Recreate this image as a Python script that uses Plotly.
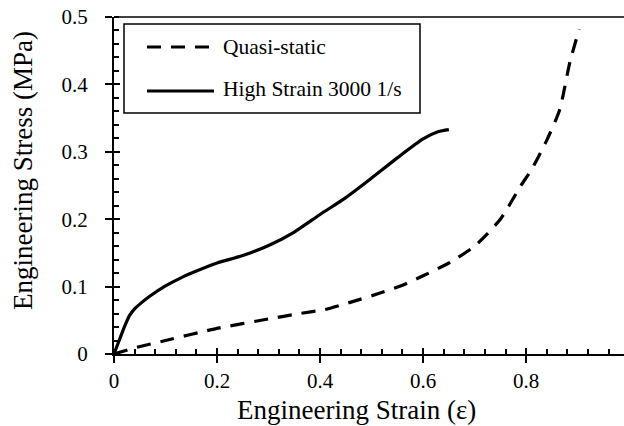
import plotly.graph_objects as go

# Data
hs_strain = [0, 0.01, 0.02, 0.03, 0.04, 0.05, 0.07, 0.1, 0.13, 0.16, 0.2, 0.25, 0.3, 0.35, 0.4, 0.45, 0.5, 0.55, 0.6, 0.63, 0.65]
hs_stress = [0, 0.02, 0.04, 0.057, 0.067, 0.074, 0.086, 0.101, 0.113, 0.123, 0.135, 0.146, 0.161, 0.181, 0.207, 0.232, 0.261, 0.291, 0.319, 0.33, 0.333]

qs_strain = [0, 0.04, 0.1, 0.2, 0.3, 0.36, 0.41, 0.46, 0.515, 0.56, 0.6, 0.65, 0.7, 0.75, 0.79, 0.81, 0.84, 0.865, 0.885, 0.903]
qs_stress = [0, 0.009, 0.02, 0.038, 0.052, 0.06, 0.066, 0.077, 0.09, 0.102, 0.116, 0.135, 0.16, 0.2, 0.25, 0.273, 0.317, 0.362, 0.433, 0.482]

series_names = ["Quasi-static", "High Strain 3000 1/s"]
x_ticks = [0, 0.2, 0.4, 0.6, 0.8]
x_tick_labels = ["0", "0.2", "0.4", "0.6", "0.8"]
y_ticks = [0, 0.1, 0.2, 0.3, 0.4, 0.5]
y_tick_labels = ["0", "0.1", "0.2", "0.3", "0.4", "0.5"]
x_title = "Engineering Strain (ε)"
y_title = "Engineering Stress (MPa)"

FONT = "Liberation Serif, Times New Roman, serif"
W, H = 624, 426
L, T, R, B = 114, 17, 0, 72
PW, PH = W - L - R, H - T - B
XR = [0, 0.99]
YR = [0, 0.5]

def px(x):
    return (x - L) / PW

def py(y):
    return (H - B - y) / PH

fig = go.Figure()
fig.add_trace(go.Scatter(x=qs_strain, y=qs_stress, mode="lines", name=series_names[0],
                         line=dict(color="black", width=3.2, dash="14px,10px", shape="spline", smoothing=0.6),
                         showlegend=False))
fig.add_trace(go.Scatter(x=hs_strain, y=hs_stress, mode="lines", name=series_names[1],
                         line=dict(color="black", width=3.2, shape="spline", smoothing=0.6),
                         showlegend=False))
# invisible trace for the overlay axes (crossing major ticks)
fig.add_trace(go.Scatter(x=[XR[0]], y=[YR[0]], xaxis="x2", yaxis="y2", mode="markers",
                         marker=dict(opacity=0), showlegend=False, hoverinfo="skip"))

tickfont = dict(family=FONT, size=21, color="black")
fig.update_layout(
    width=W, height=H,
    margin=dict(l=L, r=R, t=T, b=B),
    paper_bgcolor="white", plot_bgcolor="white",
    showlegend=False,
    xaxis=dict(range=XR, tickvals=x_ticks, ticktext=x_tick_labels, ticks="outside", ticklen=7,
               tickwidth=2, tickcolor="black", showline=True, linecolor="black", linewidth=2,
               showgrid=False, zeroline=False, tickfont=tickfont, ticklabelstandoff=0,
               minor=dict(ticks="inside", dtick=0.04, tick0=0, ticklen=5, tickwidth=1.5, tickcolor="black", showgrid=False)),
    yaxis=dict(range=YR, tickvals=y_ticks, ticktext=y_tick_labels, ticks="outside", ticklen=7,
               tickwidth=2, tickcolor="black", showline=True, linecolor="black", linewidth=2,
               showgrid=False, zeroline=False, tickfont=tickfont, ticklabelstandoff=13,
               minor=dict(ticks="inside", dtick=0.02, tick0=0, ticklen=5, tickwidth=1.5, tickcolor="black", showgrid=False)),
    xaxis2=dict(range=XR, overlaying="x", side="bottom", tickvals=x_ticks, ticks="inside", ticklen=6,
                tickwidth=2, tickcolor="black", showticklabels=False, showgrid=False, zeroline=False, showline=False),
    yaxis2=dict(range=YR, overlaying="y", side="left", tickvals=y_ticks, ticks="inside", ticklen=6,
                tickwidth=2, tickcolor="black", showticklabels=False, showgrid=False, zeroline=False, showline=False),
)

# axis titles
titlefont = dict(family=FONT, size=27, color="black")
fig.add_annotation(xref="paper", yref="paper", x=px(356), y=py(410), text=x_title, showarrow=False,
                   xanchor="center", yanchor="middle", font=titlefont)
fig.add_annotation(xref="paper", yref="paper", x=px(23), y=py(171), text=y_title, showarrow=False,
                   textangle=-90, xanchor="center", yanchor="middle", font=titlefont)

# top border line
fig.add_shape(type="line", xref="paper", yref="paper", x0=0, x1=1, y0=1, y1=1,
              line=dict(color="black", width=1.5))

# custom legend box
fig.add_shape(type="rect", xref="paper", yref="paper", x0=px(124), x1=px(420), y0=py(113), y1=py(24),
              line=dict(color="black", width=1.5), fillcolor="white")
legend_line_y = [47, 91]
legend_text_y = [47, 89]
dashes = ["14px,10px", "solid"]
for name, ly, ty, d in zip(series_names, legend_line_y, legend_text_y, dashes):
    fig.add_shape(type="line", xref="paper", yref="paper", x0=px(147), x1=px(214), y0=py(ly), y1=py(ly),
                  line=dict(color="black", width=3.2, dash=d))
    fig.add_annotation(xref="paper", yref="paper", x=px(221), y=py(ty), text=name, showarrow=False,
                       xanchor="left", yanchor="middle", font=dict(family=FONT, size=21.5, color="black"))

fig.write_html("out.html")
